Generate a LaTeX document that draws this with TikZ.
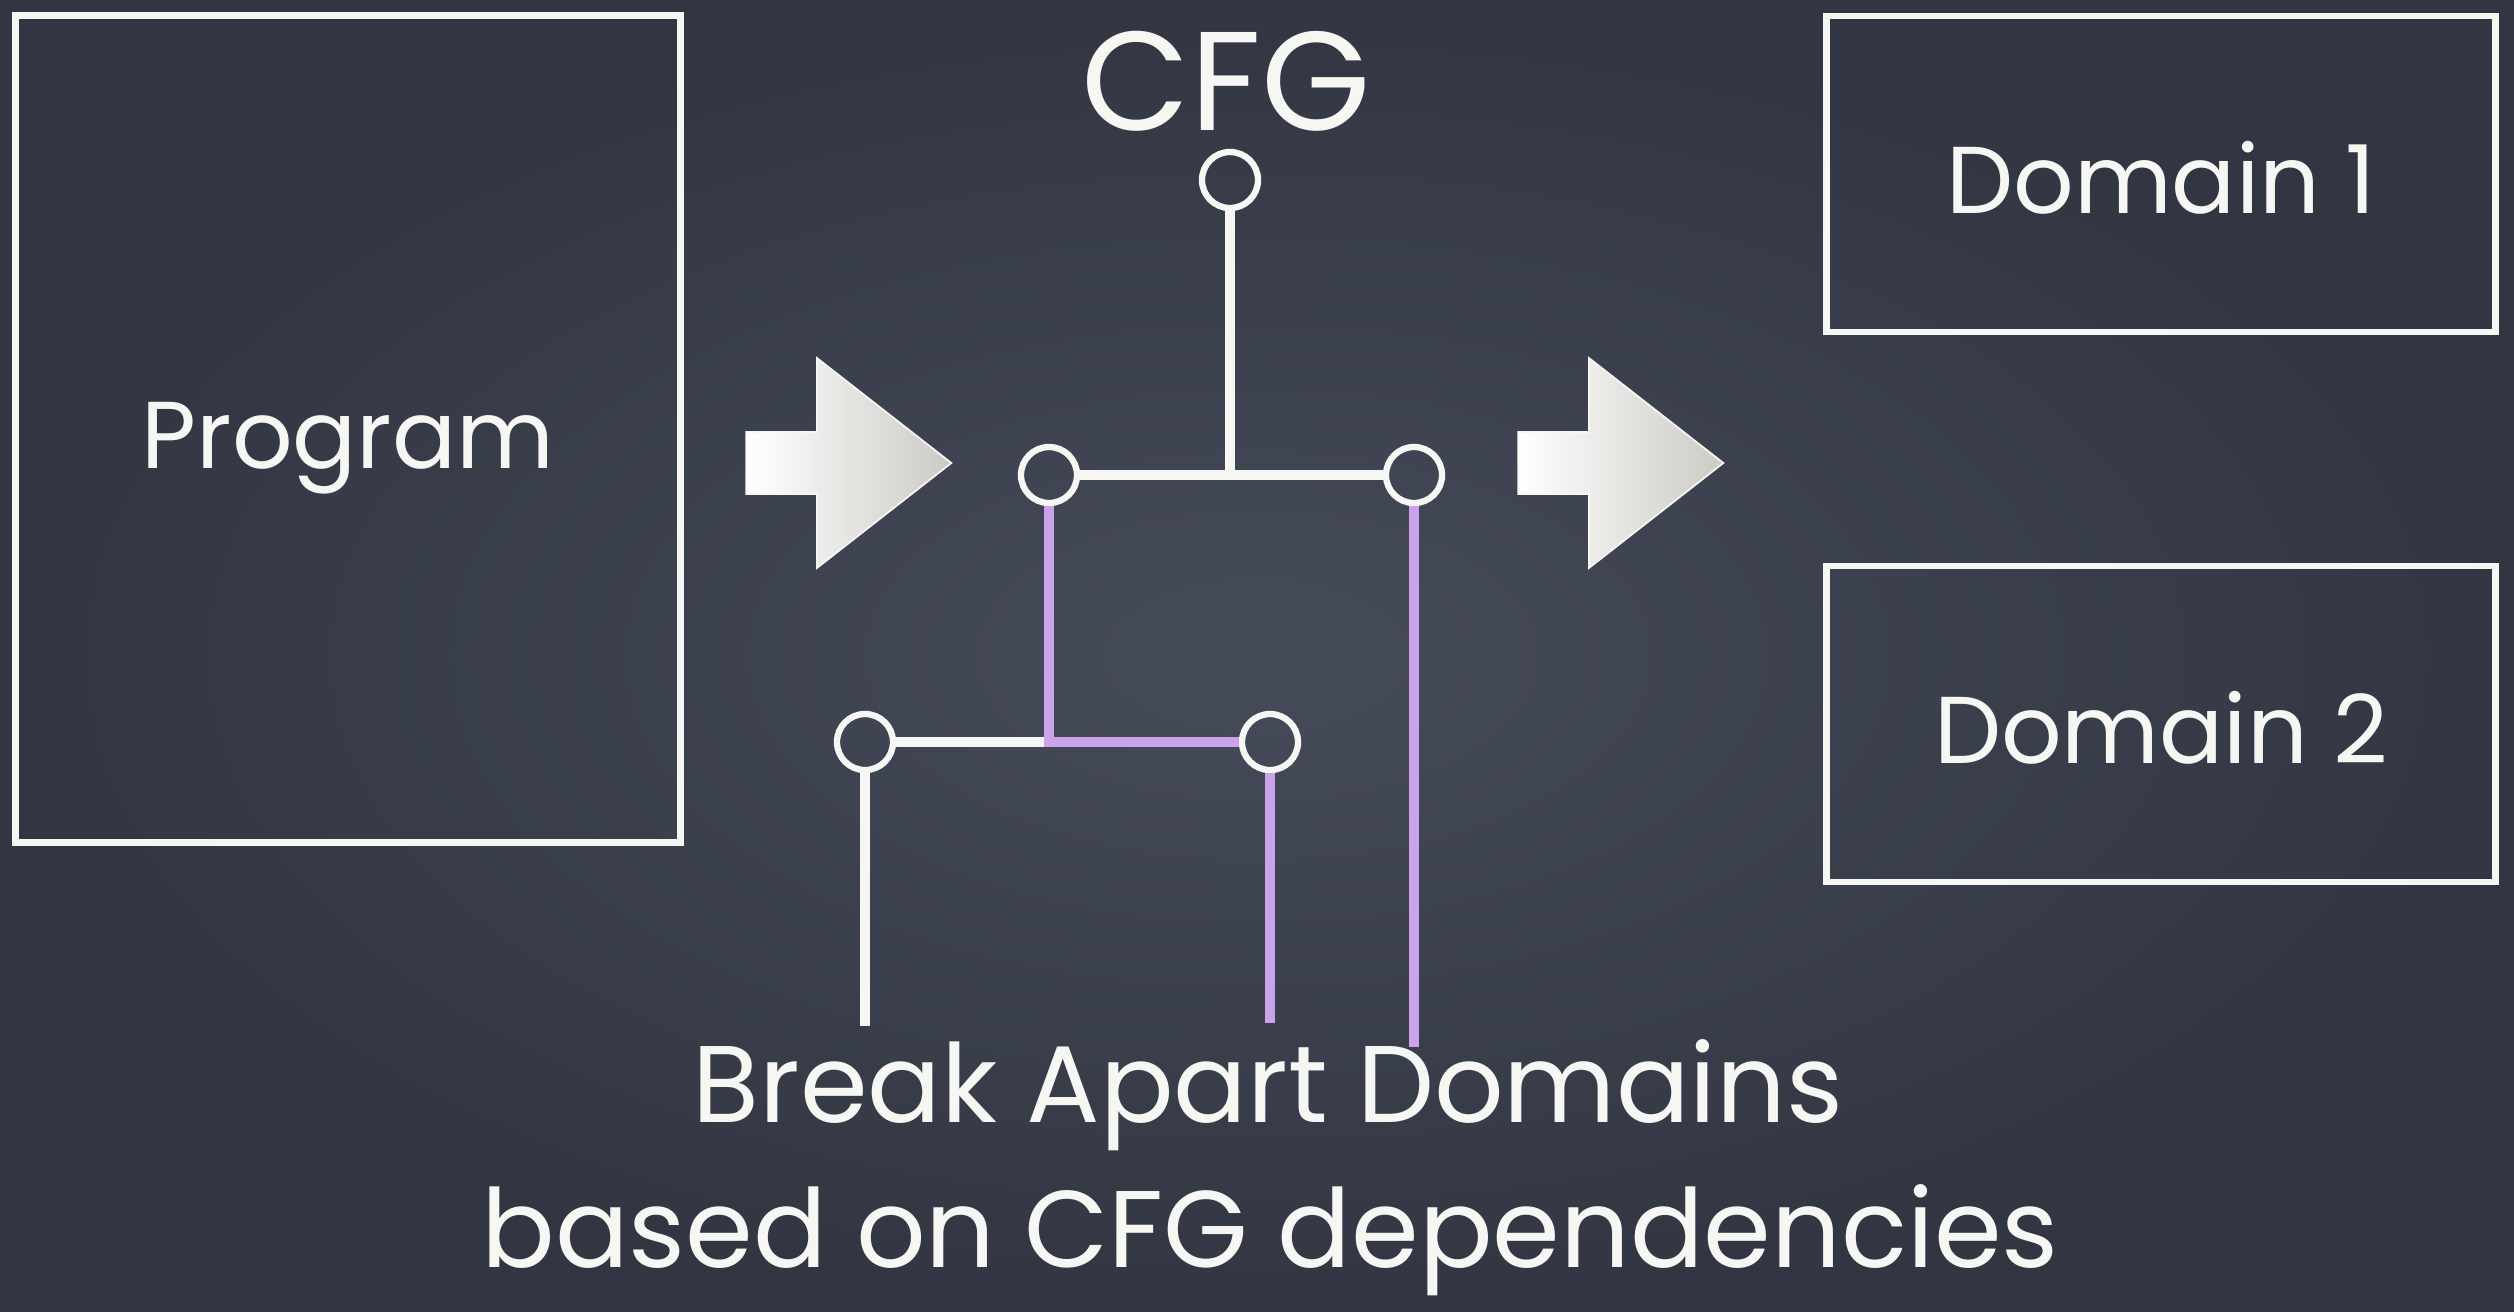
\documentclass[tikz,border=0pt]{standalone}
\usepackage{fontspec}
\setmainfont{Poppins}
\usetikzlibrary{shapes.arrows}

\definecolor{board}{RGB}{70,75,90}
\definecolor{boarddark}{RGB}{50,54,66}
\definecolor{chalk}{RGB}{246,246,243}
\definecolor{lilac}{RGB}{202,163,233}
\definecolor{arrowgrey}{RGB}{204,202,197}

\begin{document}
\begin{tikzpicture}[x=0.01cm, y=-0.01cm,
    chalkbox/.style={rectangle, draw=chalk, line width=1.9pt, text=chalk,
      text height=0.78cm, text depth=0pt, font=\fontsize{27}{32}\selectfont},
    chalktext/.style={text=chalk, inner sep=0pt, anchor=base},
    vertex/.style={circle, draw=chalk, line width=1.8pt, minimum size=0.56cm, inner sep=0pt},
    edge/.style={chalk, line width=2.8pt},
    split/.style={lilac, line width=2.8pt},
    bigarrow/.style={single arrow, draw=chalk, line width=0.5pt,
      left color=white, right color=arrowgrey, inner xsep=0pt, inner ysep=0.3cm,
      minimum height=2.05cm, single arrow head extend=0.74cm, single arrow tip angle=76}]

  % Tafel
  \useasboundingbox (0,0) rectangle (2514,1311);
  \fill[inner color=board, outer color=boarddark] (0,0) rectangle (2514,1311);

  % Programm links
  \node[chalkbox, minimum width=6.64cm, minimum height=8.26cm] (program) at (348,429) {Program};

  % Pfeile
  \node[bigarrow] (arrowin) at (829,463) {};
  \node[bigarrow] (arrowout) at (1601,463) {};

  % CFG Baum
  \node[chalktext, font=\fontsize{40}{48}\selectfont] (cfg) at (1226,130) {CFG};
  \node[vertex] (root) at (1230,180) {};
  \node[vertex] (left) at (1049,475) {};
  \node[vertex] (right) at (1414,475) {};
  \node[vertex] (lowleft) at (865,742) {};
  \node[vertex] (lowright) at (1270,742) {};
  \coordinate (fork) at (left |- lowleft);
  \coordinate (leafa) at (865,1026);
  \coordinate (leafb) at (1270,1023);
  \coordinate (leafc) at (1414,1047);

  \draw[edge] (root.south) -- (root.south |- left);
  \draw[edge] (left.east) -- (right.west);
  \draw[edge] (lowleft.east) -- (fork);
  \draw[edge] (lowleft.south) -- (leafa);
  % abgetrennter Teil
  \draw[split] (left.south) -- (fork) -- (lowright.west);
  \draw[split] (lowright.south) -- (leafb);
  \draw[split] (right.south) -- (leafc);

  % Domains rechts
  \node[chalkbox, minimum width=6.68cm, minimum height=3.16cm] (domone) at (2161,174) {Domain 1};
  \node[chalkbox, minimum width=6.68cm, minimum height=3.16cm] (domtwo) at (2161,724) {Domain 2};

  % Unterschrift
  \node[chalktext, font=\fontsize{31}{37}\selectfont] (title) at (1268,1122) {Break Apart Domains};
  \node[chalktext, font=\fontsize{31}{37}\selectfont] (subtitle) at (1270,1267) {based on CFG dependencies};
\end{tikzpicture}
\end{document}
